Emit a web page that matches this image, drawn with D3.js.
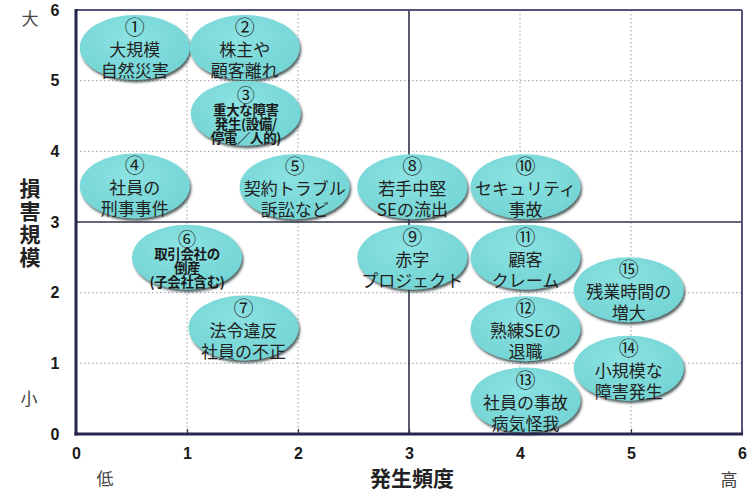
<!DOCTYPE html>
<html><head><meta charset="utf-8">
<script src="https://cdn.jsdelivr.net/npm/d3@7"></script>
<style>
html,body{margin:0;padding:0;background:#fff;}
svg{display:block;}
</style></head>
<body>
<svg id="chart" width="747" height="492"></svg>
<script>
// ---- data ----
const markers = ["①","②","③","④","⑤","⑥","⑦","⑧","⑨","⑩","⑪","⑫","⑬","⑭","⑮"];
const riskLabels = [
  ["大規模","自然災害"],
  ["株主や","顧客離れ"],
  ["重大な障害","発生(設備/","停電／人的)"],
  ["社員の","刑事事件"],
  ["契約トラブル","訴訟など"],
  ["取引会社の","倒産","(子会社含む)"],
  ["法令違反","社員の不正"],
  ["若手中堅","SEの流出"],
  ["赤字","プロジェクト"],
  ["セキュリティ","事故"],
  ["顧客","クレーム"],
  ["熟練SEの","退職"],
  ["社員の事故","病気怪我"],
  ["小規模な","障害発生"],
  ["残業時間の","増大"]
];
const frequency = [0.53,1.52,1.53,0.53,1.97,1.0,1.51,3.03,3.03,4.05,4.05,4.05,4.05,4.98,4.98];
const impact    = [5.47,5.47,4.54,3.51,3.50,2.50,1.50,3.50,2.50,3.50,2.50,1.49,0.48,0.93,2.04];
const xTicks = [0,1,2,3,4,5,6];
const yTicks = [0,1,2,3,4,5,6];
const gridValues = [1,2,4,5];
const quadrantValue = 3;
const xTitle = "発生頻度", yTitle = "損害規模";
const xLow = "低", xHigh = "高", yHigh = "大", yLow = "小";

// ---- layout ----
const svg = d3.select("#chart");
const x = d3.scaleLinear().domain([0,6]).range([76,742]);
const y = d3.scaleLinear().domain([0,6]).range([434,10]);
const jp = "'Noto Sans CJK JP','Noto Sans',sans-serif";
const num = "'Liberation Sans',Arial,sans-serif";

const defs = svg.append("defs");
const f = defs.append("filter").attr("id","sh").attr("x","-20%").attr("y","-20%").attr("width","140%").attr("height","150%");
f.append("feDropShadow").attr("dx",1.5).attr("dy",2.5).attr("stdDeviation",1.2)
  .attr("flood-color","#2a3a3a").attr("flood-opacity",0.8);
const g = defs.append("radialGradient").attr("id","fillg").attr("cx","45%").attr("cy","35%").attr("r","70%");
g.append("stop").attr("offset","0%").attr("stop-color","#8be2e2");
g.append("stop").attr("offset","100%").attr("stop-color","#72d3d3");

// grid
svg.append("g").selectAll("line.gx").data(gridValues).join("line")
  .attr("x1",d=>x(d)).attr("x2",d=>x(d)).attr("y1",y(6)).attr("y2",y(0))
  .attr("stroke","#9a9aa8").attr("stroke-width",1).attr("stroke-dasharray","1.5,2.5");
svg.append("g").selectAll("line.gy").data(gridValues).join("line")
  .attr("y1",d=>y(d)).attr("y2",d=>y(d)).attr("x1",x(0)).attr("x2",x(6))
  .attr("stroke","#9a9aa8").attr("stroke-width",1).attr("stroke-dasharray","1.5,2.5");

// quadrant lines
svg.append("line").attr("x1",x(quadrantValue)).attr("x2",x(quadrantValue)).attr("y1",y(6)).attr("y2",y(0))
  .attr("stroke","#33334d").attr("stroke-width",1.6);
svg.append("line").attr("y1",y(quadrantValue)).attr("y2",y(quadrantValue)).attr("x1",x(0)).attr("x2",x(6))
  .attr("stroke","#33334d").attr("stroke-width",1.6);

// axes (bottom ticks inward)
const xAxis = d3.axisBottom(x).tickValues(xTicks).tickSize(-5).tickPadding(14).tickFormat(d3.format("d"));
const ax = svg.append("g").attr("transform",`translate(0,${y(0)})`).call(xAxis);
ax.select(".domain").remove();
ax.selectAll(".tick line").attr("stroke","#33334d").attr("stroke-width",1.2);
ax.selectAll("text").attr("font-family",num).attr("font-weight","bold").attr("font-size",16).attr("fill","#1a1a1a");

const yAxis = d3.axisLeft(y).tickValues(yTicks).tickSize(0).tickPadding(15).tickFormat(d3.format("d"));
const ay = svg.append("g").attr("transform",`translate(${x(0)},0)`).call(yAxis);
ay.select(".domain").remove();
ay.selectAll("text").attr("font-family",num).attr("font-weight","bold").attr("font-size",16).attr("fill","#1a1a1a")
  .attr("text-anchor","middle").attr("dx",-6);

// ellipses
const items = markers.map((m,i)=>({m, lines:riskLabels[i], fx:frequency[i], im:impact[i]}));
const bub = svg.append("g").selectAll("g").data(items).join("g")
  .attr("transform",d=>`translate(${x(d.fx)},${y(d.im)})`);
bub.append("ellipse").attr("rx",55).attr("ry",32.5)
  .attr("fill","url(#fillg)").attr("filter","url(#sh)");
bub.each(function(d){
  const el = d3.select(this);
  const small = d.lines.length > 2;
  if (small) {
    el.append("text").text(d.m).attr("y",-19).attr("text-anchor","middle").attr("dominant-baseline","central")
      .attr("font-family",jp).attr("font-size",18).attr("fill","#1a1a1a");
    d.lines.forEach((t,k)=>{
      el.append("text").text(t).attr("y",-4 + k*14).attr("text-anchor","middle").attr("dominant-baseline","central")
        .attr("font-family",jp).attr("font-weight","bold").attr("font-size",13.5).attr("letter-spacing",-0.4).attr("fill","#1a1a1a");
    });
  } else {
    el.append("text").text(d.m).attr("y",-21).attr("text-anchor","middle").attr("dominant-baseline","central")
      .attr("font-family",jp).attr("font-size",20).attr("fill","#222");
    d.lines.forEach((t,k)=>{
      el.append("text").text(t).attr("y",1 + k*21).attr("text-anchor","middle").attr("dominant-baseline","central")
        .attr("font-family",jp).attr("font-size",17).attr("fill","#222");
    });
  }
});

// frame
svg.append("line").attr("x1",x(0)).attr("x2",x(6)).attr("y1",y(6)).attr("y2",y(6)).attr("stroke","#55557a").attr("stroke-width",2);
svg.append("line").attr("x1",x(6)).attr("x2",x(6)).attr("y1",y(6)).attr("y2",y(0)).attr("stroke","#55557a").attr("stroke-width",2);
svg.append("line").attr("x1",x(0)).attr("x2",x(0)).attr("y1",y(6)-1).attr("y2",y(0)+1.5).attr("stroke","#25254d").attr("stroke-width",3);
svg.append("line").attr("x1",x(0)-1.5).attr("x2",x(6)+1).attr("y1",y(0)).attr("y2",y(0)).attr("stroke","#25254d").attr("stroke-width",3);

// titles
const yt = svg.append("text").attr("font-family",jp).attr("font-weight","bold").attr("font-size",21).attr("fill","#222")
  .attr("text-anchor","middle");
yTitle.split("").forEach((c,k)=>{
  yt.append("tspan").attr("x",30).attr("y",187 + k*23).attr("dominant-baseline","central").text(c);
});
svg.append("text").text(xTitle).attr("x",412).attr("y",477).attr("text-anchor","middle").attr("dominant-baseline","central")
  .attr("font-family",jp).attr("font-weight","bold").attr("font-size",21).attr("fill","#222");
const sideLab = (t,px,py)=>svg.append("text").text(t).attr("x",px).attr("y",py).attr("text-anchor","middle")
  .attr("dominant-baseline","central").attr("font-family",jp).attr("font-size",17).attr("fill","#444");
sideLab(yHigh,30,17);
sideLab(yLow,29,397);
sideLab(xLow,105,477);
sideLab(xHigh,729,478);
</script>
</body></html>
